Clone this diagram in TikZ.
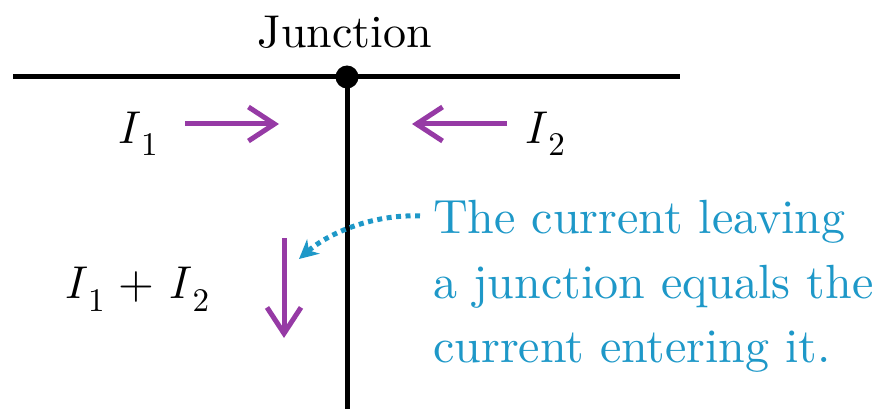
\documentclass[tikz,border=0pt]{standalone}
\usepackage{fontspec}
\setmainfont{lmroman10}[Extension=.otf,UprightFont=*-regular,ItalicFont=*-italic,BoldFont=*-bold]
\usetikzlibrary{arrows.meta}
\definecolor{curpurple}{RGB}{150,58,165}
\definecolor{notecyan}{RGB}{30,152,200}
\newcommand\cursym[1]{\textit{I}\kern1pt\raisebox{-13pt}{\fontsize{33}{33}\selectfont #1}}
\begin{document}
\begin{tikzpicture}[x=1pt,y=-1pt,
  wire/.style={line width=5pt,black},
  curarrow/.style={line width=5pt,curpurple,-{Straight Barb[length=26pt,width=34pt]}},
  notearrow/.style={line width=5pt,notecyan,dash pattern=on 5pt off 4.5pt,-{Stealth[length=19pt,width=19pt,inset=6pt]}},
  lbl/.style={inner sep=0pt,font=\fontsize{46}{56}\selectfont},
  note/.style={inner sep=0pt,anchor=base west,text=notecyan,font=\fontsize{48}{64}\selectfont}]
\useasboundingbox (0,0) rectangle (875,409);
\coordinate (L) at (13,77);
\coordinate (R) at (680,77);
\coordinate (B) at (347,412);
\node[circle,fill=black,minimum size=23pt,inner sep=0pt] (J) at (347,77) {};
\draw[wire] (L) -- (R);
\draw[wire] (J.center) -- (B);
\node[inner sep=0pt,anchor=base,font=\fontsize{46}{56}\selectfont] (jt) at (345,48) {Junction};
% currents
\node[lbl,anchor=base west] (i1) at (117,143) {\cursym{1}};
\node[lbl,anchor=base west] (i2) at (524,143) {\cursym{2}};
\node[lbl,anchor=base west] (i12) at (64,298) {\cursym{1}\hspace{14pt}+\hspace{14pt}\cursym{2}};
\coordinate (a1s) at (185,124);
\coordinate (a1e) at (279,124);
\coordinate (a2s) at (507,124);
\coordinate (a2e) at (412,124);
\coordinate (a3s) at (284,238);
\coordinate (a3e) at (284,338);
\draw[curarrow] (a1s) -- (a1e);
\draw[curarrow] (a2s) -- (a2e);
\draw[curarrow] (a3s) -- (a3e);
% note
\node[note] (n1) at (433,233) {The current leaving};
\node[note] (n2) at (433,298) {a junction equals the};
\node[note] (n3) at (433,362) {current entering it.};
\coordinate (ds) at (420,216);
\coordinate (de) at (299,259);
\draw[notearrow] (ds) .. controls (375,214) and (330,232) .. (de);
\end{tikzpicture}
\end{document}
